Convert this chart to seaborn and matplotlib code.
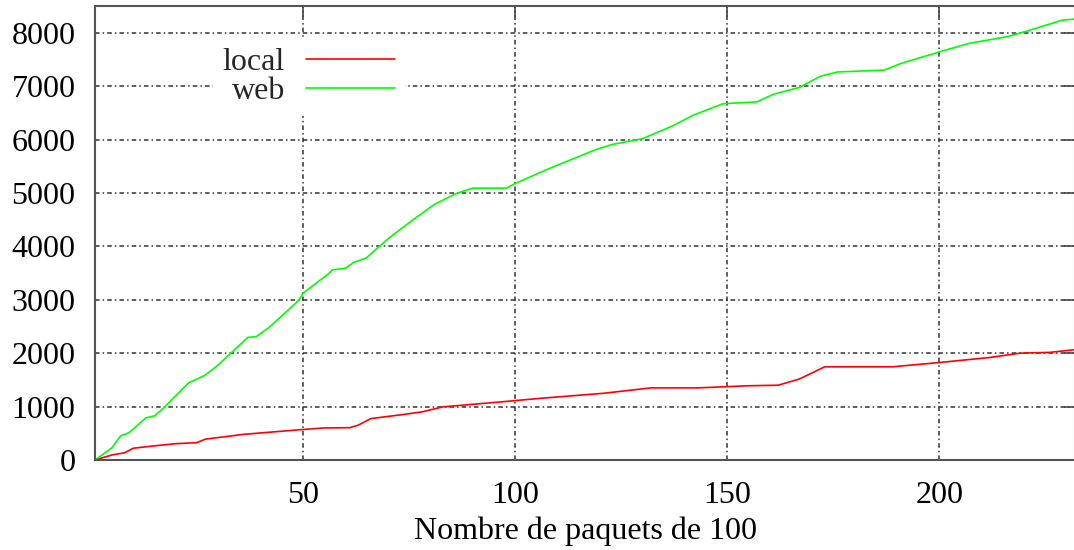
import matplotlib
matplotlib.use("Agg")
import matplotlib.pyplot as plt
import seaborn as sns
import pandas as pd

# values
web_x = [1, 5, 7, 9, 13, 15, 17, 23, 27, 30, 37, 39, 42, 49, 50, 56, 57, 60, 62, 65,
         68, 71, 76, 81, 86, 90, 98, 100, 108, 119, 123, 130, 137, 142, 149, 157, 161,
         167, 172, 176, 187, 191, 200, 207, 216, 220, 229, 232]
web_y = [0, 230, 450, 510, 790, 825, 960, 1440, 1590, 1775, 2295, 2310, 2480, 2985, 3120,
         3485, 3560, 3590, 3700, 3785, 4000, 4200, 4500, 4785, 4985, 5090, 5090, 5175,
         5455, 5810, 5910, 6015, 6250, 6455, 6670, 6705, 6850, 6975, 7185, 7265, 7300,
         7425, 7640, 7800, 7925, 8015, 8235, 8255]

local_x = [1, 5, 8, 10, 15, 20, 25, 27, 36, 49, 55, 61, 63, 66, 71, 74, 78, 83, 97, 106,
           121, 132, 143, 155, 162, 167, 173, 189, 200, 212, 219, 226, 232]
local_y = [0, 95, 135, 220, 265, 305, 325, 390, 480, 565, 600, 605, 650, 775, 825, 855,
           900, 995, 1090, 1155, 1250, 1350, 1350, 1390, 1400, 1515, 1745, 1745, 1825,
           1920, 2000, 2015, 2065]

x_ticks = [50, 100, 150, 200]
y_ticks = [0, 1000, 2000, 3000, 4000, 5000, 6000, 7000, 8000]

local_df = pd.DataFrame({"paquets": local_x, "temps": local_y})
web_df = pd.DataFrame({"paquets": web_x, "temps": web_y})

sns.set_theme(style="white")
plt.rcParams["font.family"] = ["Liberation Serif", "DejaVu Serif"]

fig = plt.figure(figsize=(10.74, 5.5), dpi=100)
ax = fig.add_axes([95 / 1074, 90 / 550, 980 / 1074, 454 / 550])

sns.lineplot(data=local_df, x="paquets", y="temps", ax=ax, color="#ff0000",
             linewidth=1.2, label="local", estimator=None, sort=False)
sns.lineplot(data=web_df, x="paquets", y="temps", ax=ax, color="#00ff00",
             linewidth=1.2, label="web", estimator=None, sort=False)

ax.set_xlim(1, 232)
ax.set_ylim(0, 8500)
ax.set_xticks(x_ticks)
ax.set_yticks(y_ticks)
ax.grid(True, color="#333333", linestyle=(0, (3, 2, 1, 2)), linewidth=1.1)
ax.set_axisbelow(True)

for side in ["left", "bottom", "top", "right"]:
    ax.spines[side].set_color("#555555")
    ax.spines[side].set_linewidth(1.5)

ax.tick_params(axis="both", which="major", direction="in", length=8, width=1.2,
               color="#444444", top=True, right=True, labelsize=23,
               labelcolor="black")
ax.tick_params(axis="y", pad=14)
ax.tick_params(axis="x", pad=15)

ax.set_ylabel("")
ax.set_xlabel("Nombre de paquets de 100", fontsize=23, color="black", labelpad=5)

leg = ax.legend(loc="upper right", bbox_to_anchor=(0.316, 0.93), markerfirst=False,
                frameon=True, fancybox=False, edgecolor="none", facecolor="white",
                framealpha=1, handlelength=2.8, handletextpad=0.65, labelspacing=0.0,
                borderpad=0.3, borderaxespad=0, fontsize=23)

fig.savefig("out.png", dpi=100)
